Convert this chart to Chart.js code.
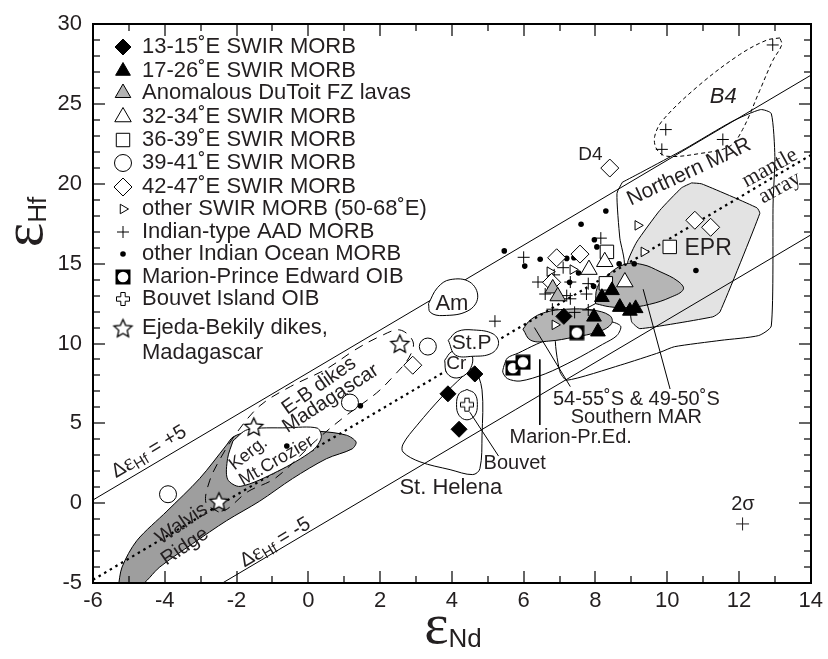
<!DOCTYPE html>
<html>
<head>
<meta charset="utf-8">
<script src="https://cdn.jsdelivr.net/npm/chart.js@4.4.0/dist/chart.umd.min.js"></script>
<style>body{margin:0;background:#fff}canvas{display:block}</style>
</head>
<body>
<canvas id="grafica" width="828" height="659"></canvas>
<script>
// muestras [eNd, eHf]
var swir1315 = [[4.64,8.09],[3.89,6.85],[4.2,4.63],[7.12,11.7]];
var swir1726 = [[8.46,13.33],[8.18,12.9],[8.68,12.28],[8.96,12.04],[9.12,12.2],[7.96,11.67],[8.07,10.74]];
var dutoit = [[6.81,13.45],[6.95,12.96]];
var swir3234 = [[8.26,15.12],[7.82,14.63],[8.82,13.85]];
var swir3639 = [[8.32,15.74],[8.29,13.77],[10.07,16.05]];
var swir3941 = [[3.33,9.81],[1.16,6.3],[-3.91,0.56]];
var swir4247 = [[8.4,20.99],[6.92,15.37],[7.57,15.6],[6.78,13.83],[2.91,8.64],[10.77,17.72],[11.21,17.28]];
var swirOtros = [[6.73,14.5],[7.37,14.63],[6.87,11.17],[9.18,17.4],[9.35,15.74]];
var aad = [[6.0,15.4],[6.4,13.85],[6.6,13.1],[6.85,14.3],[7.1,14.75],[7.2,13.0],[7.3,12.8],[7.75,13.1],[7.8,13.75],
           [6.8,12.15],[7.42,11.95],[7.8,12.1],[8.15,16.6],[5.2,11.4],[7.3,13.85],[9.96,23.4],[9.85,22.16],[11.55,22.78],[12.94,28.7]];
var indico = [[8.29,18.3],[7.6,17.47],[5.46,15.8],[7.97,16.5],[8.04,16.05],[6.03,14.85],[6.46,15.28],[7.2,15.33],[7.4,15.37],
              [7.53,14.42],[7.28,13.83],[7.95,13.58],[8.66,15.0],[9.08,15.0],[10.8,14.57],[-0.6,3.58],[1.45,6.1]];
var marion = [[7.48,10.68],[5.7,8.46],[5.98,8.83]];
var bouvet = [[4.42,6.17]];
var ejeda = [[2.55,10.0],[-1.52,4.81],[-2.49,0.12]];
var errorBar = [[12.1,-1.3]];

// rectas de referencia (extremos)
var arrayManto = [[-6,-4.8],[14,21.8]];
var lineaMas5 = [[-6,0.2],[14,26.8]];
var lineaMenos5 = [[-6,-9.8],[14,16.8]];

// contornos de campos
var walvis = [[-5.3,-5.3],[-5.19,-4.0],[-4.78,-2.35],[-3.94,-0.5],[-3.03,1.54],[-2.28,3.64],[-2.1,4.14],[-1.7,4.45],[-0.5,4.5],
              [0.31,4.5],[1.06,4.26],[1.33,3.83],[1.22,3.4],[0.5,2.78],[-0.44,1.54],[-1.36,0.12],[-2.28,-1.1],[-3.22,-2.53],[-4.14,-4.0],[-4.7,-5.2]];
var kerg = [[-2.1,3.9],[-1.7,4.6],[-0.6,4.72],[0.25,4.7],[0.36,4.1],[0.12,3.3],[-0.85,2.0],[-1.9,1.05],[-2.25,1.5],[-2.25,2.8]];
var ebDikes = [[-2.5,-0.55],[-2.85,0.0],[-2.75,1.4],[-2.45,2.8],[-2.0,4.4],[-1.35,6.1],[-0.5,7.3],[0.5,8.4],[1.3,9.6],[2.0,10.45],
               [2.55,10.85],[2.92,10.1],[2.8,9.1],[2.35,7.9],[1.9,6.9],[1.0,5.4],[0.2,3.9],[-0.9,1.6],[-1.7,0.7],[-2.25,-0.35]];
var am = [[3.35,12.5],[3.6,13.5],[3.95,14.0],[4.5,13.85],[4.72,12.9],[4.45,12.05],[3.75,11.75],[3.4,11.95]];
var stP = [[3.9,10.2],[4.15,10.75],[4.6,10.85],[5.15,10.6],[5.3,10.0],[5.1,9.38],[4.58,9.2],[4.1,9.28]];
var cr = [[3.8,8.95],[4.0,9.5],[4.31,9.6],[4.57,9.2],[4.47,8.27],[4.14,7.84],[3.86,8.15]];
var stHelena = [[4.64,8.6],[4.84,7.1],[4.84,4.26],[4.78,2.16],[4.58,1.79],[3.95,2.1],[3.11,2.59],[2.64,3.2],[2.64,3.7],[3.03,4.88],[3.75,6.73],[4.31,7.96]];
var bouvetCampo = [[4.42,7.12],[4.64,6.85],[4.71,6.17],[4.64,5.5],[4.42,5.22],[4.2,5.5],[4.13,6.17],[4.2,6.85]];
var marionCampo = [[5.45,8.6],[5.55,9.1],[5.85,9.4],[6.35,9.95],[6.9,10.45],[7.6,11.0],[8.3,11.4],[8.7,11.1],[8.6,10.5],[8.2,9.95],
                   [7.4,8.95],[6.6,8.1],[5.9,7.65],[5.55,7.8],[5.42,8.2]];
var mar5455 = [[5.98,10.9],[6.2,11.5],[6.6,11.95],[7.2,12.15],[7.9,12.1],[8.4,11.75],[8.45,11.25],[8.1,10.75],[7.4,10.4],[6.7,10.15],[6.2,10.2]];
var mar4950 = [[8.0,12.5],[8.05,13.5],[8.3,14.2],[8.8,14.95],[9.3,14.95],[9.8,14.5],[10.3,13.9],[10.45,13.4],[10.1,12.9],[9.5,12.45],[8.9,12.25],[8.4,12.3]];
var epr = [[10.68,20.06],[10.96,20.0],[12.5,18.5],[12.58,18.15],[11.47,11.98],[11.27,11.67],[9.24,10.93],[9.01,11.36],[8.96,12.28],
           [8.9,15.1],[9.15,16.36],[9.79,18.33],[10.4,19.75]];
var marNorte = [[8.75,20.1],[9.3,20.75],[10.5,22.2],[11.8,23.9],[12.6,24.65],[12.9,24.4],[13.0,21.7],[12.95,18.8],[12.9,11.1],[12.55,10.5],
                [11.5,10.2],[10.2,9.8],[9.8,9.45],[8.7,8.65],[7.2,7.7],[7.0,8.3],[6.9,10.6],[7.6,12.0],[8.2,12.8],[8.8,14.9],[8.68,16.6],[8.6,19.4]];
var b4 = [[13.14,29.14],[12.77,29.0],[12.02,28.1],[10.9,26.2],[9.88,24.0],[9.65,22.96],[9.71,22.16],[9.99,21.73],[10.91,21.9],
          [11.74,22.35],[12.1,23.4],[12.58,25.86],[12.94,27.72],[13.19,28.7]];

// lineas de llamada
var guiaBouvet = [[4.5,5.7],[5.3,2.95]];
var guiaMarion = [[6.45,9.0],[6.45,4.9]];
var guia5455 = [[6.3,11.0],[7.3,7.3]];
var guia4950 = [[9.33,13.4],[10.08,7.15]];

// ejes
var limitesX = [-6,14];
var limitesY = [-5,30];

var leyendaTextos = ['13-15˚E SWIR MORB','17-26˚E SWIR MORB','Anomalous DuToit FZ lavas','32-34˚E SWIR MORB','36-39˚E SWIR MORB',
  '39-41˚E SWIR MORB','42-47˚E SWIR MORB','other SWIR MORB (50-68˚E)','Indian-type AAD MORB','other Indian Ocean MORB',
  'Marion-Prince Edward OIB','Bouvet Island OIB','Ejeda-Bekily dikes,'];
var leyendaY = [47,71,93,117,140,163,187,209,232,254,277,299,328];

var SANS = "'Liberation Sans', Arial, sans-serif";
var SERIF = "'Liberation Serif', 'Times New Roman', serif";
var NEGRO = '#231f20';

// simbolos propios
function estrella(r){
  var c = document.createElement('canvas'); var s = Math.ceil(2*r+4); c.width = s; c.height = s;
  var g = c.getContext('2d'); g.translate(s/2, s/2+1);
  g.beginPath();
  for (var i=0;i<10;i++){ var a = -Math.PI/2 + i*Math.PI/5; var rr = i%2 ? r*0.47 : r; g.lineTo(rr*Math.cos(a), rr*Math.sin(a)); }
  g.closePath(); g.fillStyle='#fff'; g.fill(); g.lineWidth=1.3; g.strokeStyle='#000'; g.stroke();
  return c;
}
function cuadroMarion(){
  var c = document.createElement('canvas'); c.width = 16; c.height = 16;
  var g = c.getContext('2d'); g.fillStyle='#000'; g.fillRect(0.5,0.5,15,15);
  g.beginPath(); g.arc(8,8,5.3,0,Math.PI*2); g.fillStyle='#fff'; g.fill();
  return c;
}
function cruzBouvet(){
  var c = document.createElement('canvas'); c.width = 16; c.height = 16;
  var g = c.getContext('2d'); var a=5.5, b=1.2, o=8;
  g.beginPath();
  g.moveTo(o-b-1,o-a-1); g.lineTo(o+b+1,o-a-1); g.lineTo(o+b+1,o-b-1); g.lineTo(o+a+1,o-b-1); g.lineTo(o+a+1,o+b+1);
  g.lineTo(o+b+1,o+b+1); g.lineTo(o+b+1,o+a+1); g.lineTo(o-b-1,o+a+1); g.lineTo(o-b-1,o+b+1); g.lineTo(o-a-1,o+b+1);
  g.lineTo(o-a-1,o-b-1); g.lineTo(o-b-1,o-b-1); g.closePath();
  g.fillStyle='#fff'; g.fill(); g.lineWidth=1; g.strokeStyle='#000'; g.stroke();
  return c;
}

var estilos = [
  {pointStyle:'rectRot', pointRadius:8, pointBackgroundColor:'#000', pointBorderColor:'#000', pointBorderWidth:1},
  {pointStyle:'triangle', pointRadius:8.5, pointBackgroundColor:'#000', pointBorderColor:'#000', pointBorderWidth:1},
  {pointStyle:'triangle', pointRadius:9, pointBackgroundColor:'#b3b3b3', pointBorderColor:'#000', pointBorderWidth:1},
  {pointStyle:'triangle', pointRadius:9.5, pointBackgroundColor:'#fff', pointBorderColor:'#000', pointBorderWidth:1},
  {pointStyle:'rect', pointRadius:9.5, pointBackgroundColor:'#fff', pointBorderColor:'#000', pointBorderWidth:1},
  {pointStyle:'circle', pointRadius:8.5, pointBackgroundColor:'#fff', pointBorderColor:'#000', pointBorderWidth:1},
  {pointStyle:'rectRot', pointRadius:9, pointBackgroundColor:'#fff', pointBorderColor:'#000', pointBorderWidth:1},
  {pointStyle:'triangle', pointRotation:90, pointRadius:5.5, pointBackgroundColor:'#fff', pointBorderColor:'#000', pointBorderWidth:1},
  {pointStyle:'cross', pointRadius:6, pointBackgroundColor:'#000', pointBorderColor:'#000', pointBorderWidth:1},
  {pointStyle:'circle', pointRadius:2.8, pointBackgroundColor:'#000', pointBorderColor:'#000', pointBorderWidth:0},
  {pointStyle:cuadroMarion(), pointRadius:8},
  {pointStyle:cruzBouvet(), pointRadius:8},
  {pointStyle:estrella(9.5), pointRadius:10}
];
var series = [swir1315, swir1726, dutoit, swir3234, swir3639, swir3941, swir4247, swirOtros, aad, indico, marion, bouvet, ejeda];

function xy(arr){ return arr.map(function(p){ return {x:p[0], y:p[1]}; }); }
function cerrar(arr){ return arr.concat([arr[0]]); }

var datasets = [];
for (var i=0;i<series.length;i++){
  datasets.push(Object.assign({data: xy(series[i]), showLine:false, order:0}, estilos[i]));
}
datasets.push({data: xy(errorBar), showLine:false, order:0, pointStyle:'cross', pointRadius:6.5, pointBorderColor:NEGRO, pointBorderWidth:1});

function campo(arr, op){
  return Object.assign({data: xy(cerrar(arr)), showLine:true, pointRadius:0, borderColor:'#000', borderWidth:1, tension:0.4, fill:false}, op);
}
function recta(arr, op){
  return Object.assign({data: xy(arr), showLine:true, pointRadius:0, borderColor:'#000', borderWidth:1, fill:false}, op);
}
datasets.push(recta(guiaBouvet, {order:1}));
datasets.push(recta(guiaMarion, {order:1}));
datasets.push(recta(guia5455, {order:1}));
datasets.push(recta(guia4950, {order:1}));
datasets.push(campo(ebDikes, {order:1, borderDash:[9,7], tension:0.35}));
datasets.push(campo(b4, {order:1, borderDash:[4,3], tension:0.35}));
datasets.push(campo(am, {order:2, fill:'shape', backgroundColor:'#fff'}));
datasets.push(campo(stP, {order:2, fill:'shape', backgroundColor:'#fff'}));
datasets.push(campo(cr, {order:2, fill:'shape', backgroundColor:'#fff'}));
datasets.push(campo(bouvetCampo, {order:2, fill:'shape', backgroundColor:'#fff'}));
datasets.push(campo(kerg, {order:2, fill:'shape', backgroundColor:'#fff', tension:0.3}));
datasets.push(recta(lineaMas5, {order:3}));
datasets.push(recta(lineaMenos5, {order:3}));
datasets.push(recta(arrayManto, {order:3, borderWidth:2.2, borderDash:[2.5,4]}));
datasets.push(campo(mar4950, {order:4, fill:'shape', backgroundColor:'#b5b5b5'}));
datasets.push(campo(mar5455, {order:4, fill:'shape', backgroundColor:'#b5b5b5'}));
datasets.push(campo(epr, {order:5, fill:'shape', backgroundColor:'#e3e3e3', tension:0.15}));
datasets.push(campo(marNorte, {order:6, tension:0.2}));
datasets.push(campo(marionCampo, {order:6, tension:0.3}));
datasets.push(campo(stHelena, {order:6, tension:0.35}));
datasets.push(campo(walvis, {order:7, fill:'shape', backgroundColor:'#9e9e9e', tension:0.3}));

// etiquetas: [texto, eNd, eHf, angulo, fuente]
var etiquetas = [
  ['Am',4.0,12.5,0,'22px '+SANS],['St.P',4.55,10.0,0,'21px '+SANS],['Cr',4.12,8.75,0,'19px '+SANS],
  ['St. Helena',3.97,0.95,0,'22px '+SANS],['Bouvet',5.75,2.5,0,'20px '+SANS],['Marion-Pr.Ed.',7.31,4.1,0,'20px '+SANS],
  ['54-55˚S & 49-50˚S',9.14,6.5,0,'20px '+SANS],['Southern MAR',9.14,5.35,0,'20px '+SANS],['EPR',11.14,15.95,0,'23px '+SANS],
  ['Northern MAR',10.61,20.74,-25,'21px '+SANS],['mantle',12.86,20.99,-29,'22px '+SERIF],
  ['array',13.14,19.75,-29,'22px '+SERIF],['B4',11.56,25.43,0,'italic 22px '+SANS],['D4',7.86,21.85,0,'19px '+SANS],
  ['2σ',12.11,-0.06,0,'20px '+SANS],['E-B dikes',0.3,7.35,-35,'20px '+SANS],['Madagascar',0.62,6.55,-33,'20px '+SANS],
  ['Walvis',-3.53,-1.3,-34,'20px '+SANS],['Ridge',-3.44,-2.72,-34,'20px '+SANS],['Kerg.',-1.67,3.1,-38,'18px '+SANS],
  ['Mt.Crozier',-0.89,2.65,-30,'18px '+SANS]
];

function texto(ctx, partes, x, y, ang){
  ctx.save(); ctx.translate(x,y); ctx.rotate(ang*Math.PI/180);
  ctx.textBaseline='middle'; ctx.textAlign='left'; ctx.fillStyle=NEGRO;
  var w=0;
  partes.forEach(function(p){ ctx.font=p[1]; w+=ctx.measureText(p[0]).width; });
  var cx=-w/2;
  partes.forEach(function(p){ ctx.font=p[1]; ctx.fillText(p[0],cx,p[2]||0); cx+=ctx.measureText(p[0]).width; });
  ctx.restore();
}

// marco con marcas hacia dentro
function marco(chart){
  var ctx=chart.ctx, sx=chart.scales.x, sy=chart.scales.y;
  var izq=Math.round(sx.getPixelForValue(limitesX[0])), der=Math.round(sx.getPixelForValue(limitesX[1]));
  var arr=Math.round(sy.getPixelForValue(limitesY[1])), aba=Math.round(sy.getPixelForValue(limitesY[0]));
  ctx.save();
  ctx.fillStyle='#000';
  ctx.fillRect(izq-1, arr-1, der-izq+2, 2);
  ctx.fillRect(izq-1, aba-1, der-izq+2, 2);
  ctx.fillRect(izq-1, arr-1, 2, aba-arr+2);
  ctx.fillRect(der-1, arr-1, 2, aba-arr+2);
  for (var v=limitesX[0]; v<=limitesX[1]; v++){
    var px=Math.round(sx.getPixelForValue(v)), l=(v%2===0)?12:7;
    ctx.fillRect(px-0.6, aba-l, 1.2, l);
    ctx.fillRect(px-0.6, arr, 1.2, l);
  }
  for (var k=limitesY[0]; k<=limitesY[1]; k++){
    var py=Math.round(sy.getPixelForValue(k)), m=(k%5===0)?12:7;
    ctx.fillRect(izq, py-0.6, m, 1.2);
    ctx.fillRect(der-m, py-0.6, m, 1.2);
  }
  ctx.restore();
}

var anotaciones = {
  id:'anotaciones',
  afterDatasetsDraw: function(chart){
    var ctx=chart.ctx, sx=chart.scales.x, sy=chart.scales.y;
    etiquetas.forEach(function(e){
      texto(ctx, [[e[0], e[4]]], sx.getPixelForValue(e[1]), sy.getPixelForValue(e[2]), e[3]);
    });
    var d1 = [['Δ','20px '+SANS],['ε','23px '+SERIF],['Hf','15px '+SANS,5],[' = +5','20px '+SANS]];
    texto(ctx, d1, sx.getPixelForValue(-4.44), sy.getPixelForValue(3.21), -31);
    var d2 = [['Δ','20px '+SANS],['ε','23px '+SERIF],['Hf','15px '+SANS,5],[' = -5','20px '+SANS]];
    texto(ctx, d2, sx.getPixelForValue(-0.92), sy.getPixelForValue(-2.47), -31);
  },
  afterDraw: function(chart){
    var ctx=chart.ctx;
    marco(chart);
    // leyenda
    ctx.save();
    for (var i=0;i<leyendaTextos.length;i++){
      var st=estilos[i];
      ctx.fillStyle=st.pointBackgroundColor||'#000'; ctx.strokeStyle=st.pointBorderColor||'#000'; ctx.lineWidth=st.pointBorderWidth||1;
      Chart.helpers.drawPoint(ctx, {pointStyle:st.pointStyle, radius:st.pointRadius, rotation:st.pointRotation||0, borderWidth:st.pointBorderWidth===0?0:1}, 123, leyendaY[i]);
      ctx.fillStyle=NEGRO; ctx.font='22px '+SANS; ctx.textBaseline='middle'; ctx.textAlign='left';
      ctx.fillText(leyendaTextos[i], 142, leyendaY[i]);
    }
    ctx.fillText('Madagascar', 142, 353);
    ctx.restore();
    // titulos de ejes
    texto(ctx, [['ε','58px '+SERIF],['Hf','26px '+SANS,12]], 27, 222, -90);
    texto(ctx, [['ε','58px '+SERIF],['Nd','26px '+SANS,12]], 453, 628, 0);
  }
};

var ctx = document.getElementById('grafica').getContext('2d');
var chart = new Chart(ctx, {
  type:'scatter',
  data:{datasets: datasets},
  options:{
    responsive:false, animation:false,
    layout:{padding:{left:0, right:15, top:16, bottom:0}},
    plugins:{legend:{display:false}, tooltip:{enabled:false}},
    scales:{
      x:{type:'linear', min:limitesX[0], max:limitesX[1],
         ticks:{stepSize:2, color:NEGRO, font:{size:22, family:SANS}, padding:5},
         grid:{display:false, drawTicks:false}, border:{display:false},
         afterFit:function(s){ s.height=76; }},
      y:{type:'linear', min:limitesY[0], max:limitesY[1],
         ticks:{stepSize:5, color:NEGRO, font:{size:22, family:SANS}, padding:11},
         grid:{display:false, drawTicks:false}, border:{display:false},
         afterFit:function(s){ s.width=93; }}
    }
  },
  plugins:[anotaciones]
});
</script>
</body>
</html>
